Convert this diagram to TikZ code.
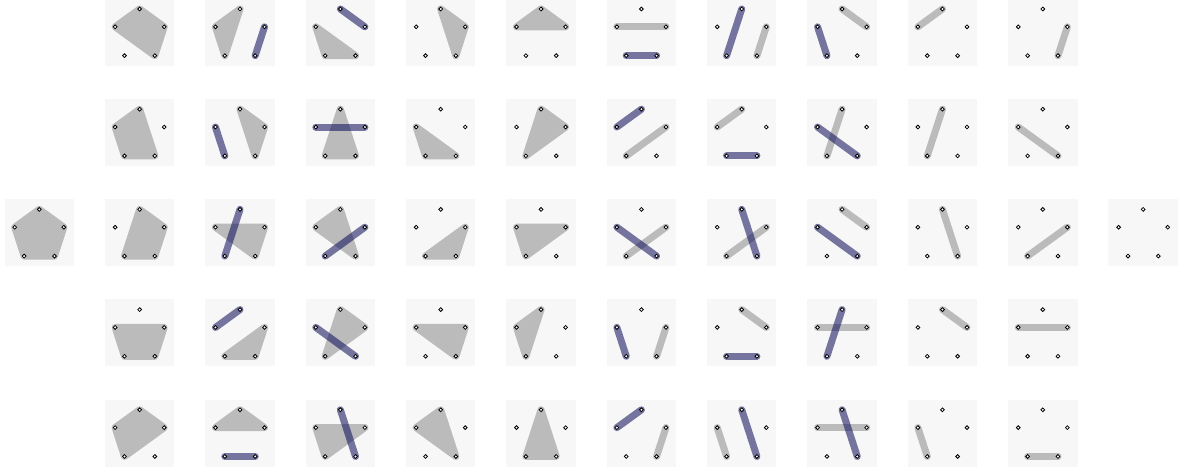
\documentclass[tikz,border=0pt]{standalone}
\usepackage{tikz}
\definecolor{panelbg}{HTML}{F7F7F7}
\definecolor{hullgray}{HTML}{BBBBBB}
\definecolor{segblue}{HTML}{0E0E5B}
\tikzset{
  hull/.style={fill=hullgray, draw=hullgray, line width=7pt, line join=round},
  gseg/.style={draw=hullgray, line width=7pt, line cap=round},
  bseg/.style={draw=segblue, draw opacity=0.56, line width=7pt, line cap=round},
  ptmark/.style={fill=white, draw=black, line width=0.8pt},
}
\newcommand\pnl[3]{%
  \begin{scope}[shift={({39.3+100.35*#1},{34.8+100.2*#2})}]
    \fill[panelbg] (-34.7,-36) rectangle (34.7,31);
    \coordinate (T) at (0,-25.8);
    \coordinate (L) at (-24.54,-7.97);
    \coordinate (R) at (24.54,-7.97);
    \coordinate (BL) at (-15.17,20.87);
    \coordinate (BR) at (15.17,20.87);
    #3
    \foreach \q in {T,L,R,BL,BR} {\draw[ptmark] (\q) circle (1.9);}
  \end{scope}}
\begin{document}
\begin{tikzpicture}[x=1pt,y=-1pt]
\useasboundingbox (0,0) rectangle (1179,470);
% column 0
\pnl{0}{2}{\draw[hull] (T)--(R)--(BR)--(BL)--(L)--cycle;}
% column 1
\pnl{1}{0}{\draw[hull] (T)--(R)--(BR)--(L)--cycle;}
\pnl{1}{1}{\draw[hull] (T)--(BR)--(BL)--(L)--cycle;}
\pnl{1}{2}{\draw[hull] (T)--(R)--(BR)--(BL)--cycle;}
\pnl{1}{3}{\draw[hull] (R)--(BR)--(BL)--(L)--cycle;}
\pnl{1}{4}{\draw[hull] (T)--(R)--(BL)--(L)--cycle;}
% column 2
\pnl{2}{0}{\draw[hull] (T)--(BL)--(L)--cycle; \draw[bseg] (R)--(BR);}
\pnl{2}{1}{\draw[hull] (T)--(R)--(BR)--cycle; \draw[bseg] (L)--(BL);}
\pnl{2}{2}{\draw[hull] (R)--(BR)--(L)--cycle; \draw[bseg] (T)--(BL);}
\pnl{2}{3}{\draw[hull] (R)--(BR)--(BL)--cycle; \draw[bseg] (T)--(L);}
\pnl{2}{4}{\draw[hull] (T)--(R)--(L)--cycle; \draw[bseg] (BL)--(BR);}
% column 3
\pnl{3}{0}{\draw[hull] (BR)--(BL)--(L)--cycle; \draw[bseg] (T)--(R);}
\pnl{3}{1}{\draw[hull] (T)--(BR)--(BL)--cycle; \draw[bseg] (L)--(R);}
\pnl{3}{2}{\draw[hull] (T)--(BR)--(L)--cycle; \draw[bseg] (R)--(BL);}
\pnl{3}{3}{\draw[hull] (T)--(R)--(BL)--cycle; \draw[bseg] (L)--(BR);}
\pnl{3}{4}{\draw[hull] (R)--(BL)--(L)--cycle; \draw[bseg] (T)--(BR);}
% column 4
\pnl{4}{0}{\draw[hull] (T)--(R)--(BR)--cycle;}
\pnl{4}{1}{\draw[hull] (BR)--(BL)--(L)--cycle;}
\pnl{4}{2}{\draw[hull] (R)--(BR)--(BL)--cycle;}
\pnl{4}{3}{\draw[hull] (R)--(BR)--(L)--cycle;}
\pnl{4}{4}{\draw[hull] (T)--(BR)--(L)--cycle;}
% column 5
\pnl{5}{0}{\draw[hull] (T)--(R)--(L)--cycle;}
\pnl{5}{1}{\draw[hull] (T)--(R)--(BL)--cycle;}
\pnl{5}{2}{\draw[hull] (R)--(BL)--(L)--cycle;}
\pnl{5}{3}{\draw[hull] (T)--(BL)--(L)--cycle;}
\pnl{5}{4}{\draw[hull] (T)--(BR)--(BL)--cycle;}
% column 6
\pnl{6}{0}{\draw[gseg] (L)--(R); \draw[bseg] (BL)--(BR);}
\pnl{6}{1}{\draw[gseg] (R)--(BL); \draw[bseg] (T)--(L);}
\pnl{6}{2}{\draw[gseg] (R)--(BL); \draw[bseg] (L)--(BR);}
\pnl{6}{3}{\draw[gseg] (R)--(BR); \draw[bseg] (L)--(BL);}
\pnl{6}{4}{\draw[gseg] (R)--(BR); \draw[bseg] (T)--(L);}
% column 7
\pnl{7}{0}{\draw[gseg] (R)--(BR); \draw[bseg] (T)--(BL);}
\pnl{7}{1}{\draw[gseg] (T)--(L); \draw[bseg] (BL)--(BR);}
\pnl{7}{2}{\draw[gseg] (R)--(BL); \draw[bseg] (T)--(BR);}
\pnl{7}{3}{\draw[gseg] (T)--(R); \draw[bseg] (BL)--(BR);}
\pnl{7}{4}{\draw[gseg] (L)--(BL); \draw[bseg] (T)--(BR);}
% column 8
\pnl{8}{0}{\draw[gseg] (T)--(R); \draw[bseg] (L)--(BL);}
\pnl{8}{1}{\draw[gseg] (T)--(BL); \draw[bseg] (L)--(BR);}
\pnl{8}{2}{\draw[gseg] (T)--(R); \draw[bseg] (L)--(BR);}
\pnl{8}{3}{\draw[gseg] (L)--(R); \draw[bseg] (T)--(BL);}
\pnl{8}{4}{\draw[gseg] (L)--(R); \draw[bseg] (T)--(BR);}
% column 9
\pnl{9}{0}{\draw[gseg] (T)--(L);}
\pnl{9}{1}{\draw[gseg] (T)--(BL);}
\pnl{9}{2}{\draw[gseg] (T)--(BR);}
\pnl{9}{3}{\draw[gseg] (T)--(R);}
\pnl{9}{4}{\draw[gseg] (L)--(BL);}
% column 10
\pnl{10}{0}{\draw[gseg] (R)--(BR);}
\pnl{10}{1}{\draw[gseg] (L)--(BR);}
\pnl{10}{2}{\draw[gseg] (R)--(BL);}
\pnl{10}{3}{\draw[gseg] (L)--(R);}
\pnl{10}{4}{\draw[gseg] (BL)--(BR);}
% column 11
\pnl{11}{2}{}
\end{tikzpicture}
\end{document}
